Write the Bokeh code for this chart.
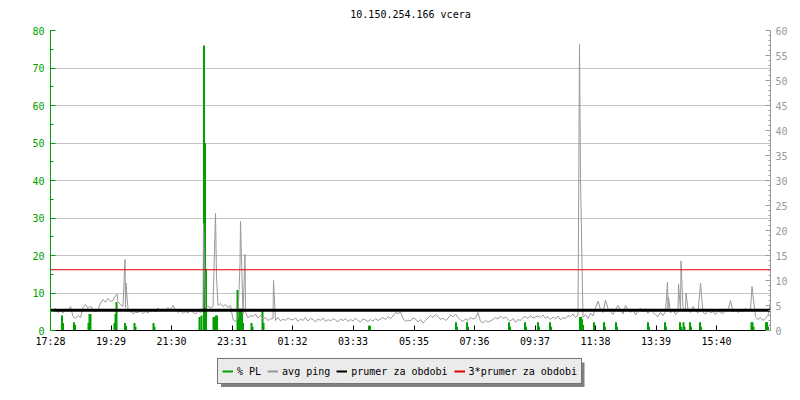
from bokeh.plotting import figure
from bokeh.layouts import column
from bokeh.models import (Range1d, LinearAxis, FixedTicker, Legend, LegendItem,
                          BoxAnnotation)
from bokeh.embed import file_html
from bokeh.resources import INLINE

FONT = "DejaVu Sans Mono"
GREEN = "#00a000"
GRAY = "#999999"
GRID = "#c4c4c4"

title_text = "10.150.254.166 vcera"
start_label = "17:28"
period_minutes = 1440
sample_step = 5

x_tick_labels = ["17:28", "19:29", "21:30", "23:31", "01:32", "03:33",
                 "05:35", "07:36", "09:37", "11:38", "13:39", "15:40"]
pl_ticks = [0, 10, 20, 30, 40, 50, 60, 70, 80]
ping_ticks = [0, 5, 10, 15, 20, 25, 30, 35, 40, 45, 50, 55, 60]

# avg ping (ms), one reading every 5 minutes from 17:28
ping_base = [
    4.2, 3.8, 4.4, 3.6, 4.0, 3.5, 4.3, 3.9, 4.8, 2.8, 2.4, 3.0,
    2.6, 4.6, 5.2, 4.4, 4.9, 4.2, 3.8, 4.1, 5.5, 6.2, 5.6, 6.4,
    5.8, 6.0, 7.0, 5.8, 5.2, 4.8, 4.6, 4.2, 3.8, 3.4, 3.6, 3.6,
    3.9, 3.4, 3.8, 3.5, 4.0, 4.2, 3.7, 4.5, 3.9, 4.3, 4.0, 4.6,
    4.1, 5.0, 4.2, 3.6, 3.9, 3.4, 3.8, 3.5, 4.0, 3.7, 3.3, 3.9,
    3.6, 4.0, 4.6, 4.9, 4.5, 4.8, 4.4, 5.0, 5.4, 4.8, 5.2, 4.6,
    5.0, 2.2, 1.8, 2.4, 2.0, 3.2, 3.6, 2.6, 3.0, 2.8, 3.3, 2.5,
    3.0, 2.2, 2.6, 2.0, 2.3, 2.4, 2.0, 2.6, 1.9, 2.3, 2.0, 2.5,
    2.2, 2.1, 2.5, 1.8, 2.3, 2.0, 2.6, 1.9, 2.4, 2.2, 1.7, 2.3,
    2.0, 2.5, 1.8, 2.2, 1.9, 2.4, 2.1, 1.7, 2.3, 2.0, 2.4, 1.8,
    2.2, 1.9, 2.5, 2.0, 1.7, 2.3, 2.1, 1.8, 2.2, 1.9, 2.4, 2.0,
    2.3, 2.6, 2.2, 2.8, 2.4, 2.9, 3.6, 3.4, 3.7, 2.4, 1.8, 2.1,
    1.9, 2.5, 2.3, 1.7, 2.2, 1.5, 2.0, 2.5, 3.0, 2.6, 3.2, 2.8,
    2.2, 2.5, 2.0, 2.4, 3.2, 2.7, 3.3, 2.6, 2.1, 1.8, 2.4, 2.0,
    2.6, 2.3, 2.5, 3.6, 1.8, 1.5, 2.0, 1.7, 1.9, 2.2, 2.6, 2.3,
    2.9, 2.4, 2.7, 2.2, 1.9, 2.4, 1.6, 2.2, 2.0, 2.6, 2.8, 2.4,
    3.0, 2.5, 2.7, 2.9, 2.6, 3.1, 2.4, 2.8, 2.2, 2.7, 2.3, 2.9,
    2.1, 2.6, 2.4, 3.0, 2.8, 3.3, 2.6, 3.1, 3.0, 2.6, 3.2, 2.4,
    3.5, 2.9, 4.5, 5.9, 4.2, 3.6, 6.1, 4.4, 3.8, 3.2, 4.2, 5.0,
    4.0, 3.3, 5.0, 4.2, 3.6, 4.3, 3.1, 3.9, 4.5, 3.7, 4.4, 3.4,
    4.1, 3.6, 3.2, 2.8, 3.6, 3.0, 3.8, 4.4, 3.5, 4.2, 3.2, 3.8,
    4.0, 4.6, 3.9, 4.3, 3.6, 4.8, 4.0, 3.5, 4.2, 3.6, 3.3, 4.0,
    3.5, 3.8, 3.2, 3.9, 3.6, 3.4, 3.9, 4.1, 6.0, 3.7, 4.3, 3.6,
    4.0, 3.8, 4.4, 3.9, 4.2, 7.0, 2.8, 2.2, 2.6, 2.0, 2.4, 3.0,
]

# short ping spikes: minute offset from 17:28, value (ms)
ping_spike_t = [133, 149, 151, 306, 330, 332, 379, 380, 389, 446,
                1058, 1060, 1234, 1236, 1256, 1261, 1271, 1300, 1360,
                1403, 1405, 1440]
ping_spike_v = [7.3, 14.2, 9.5, 21.4, 23.4, 10.8, 13.4, 21.8, 15.2, 10.0,
                57.2, 30.4, 9.7, 6.7, 9.3, 13.9, 7.5, 9.5, 6.0,
                8.8, 7.0, 5.7]

# packet loss (%): minute offset from 17:28, value
pl_t = [23, 25, 47, 49, 76, 78, 80, 128, 130, 132, 149, 151, 168, 170, 206, 208,
        298, 302, 307, 309, 311, 326, 328, 331, 333, 374, 377, 380, 383, 385,
        402, 404, 424, 426, 637, 639, 811, 813, 833, 835, 917, 919, 949, 951,
        975, 977, 999, 1001, 1059, 1061, 1063, 1065, 1087, 1089, 1107, 1109,
        1131, 1133, 1195, 1197, 1229, 1231, 1259, 1261, 1266, 1268, 1279, 1281,
        1299, 1301, 1402, 1404, 1406, 1431, 1433, 1435]
pl_v = [4.0, 2.0, 2.2, 1.5, 2.0, 4.4, 4.4, 2.0, 4.4, 7.6, 2.0, 1.2, 2.0, 1.0, 2.0, 1.0,
        3.6, 4.0, 76.0, 50.0, 16.5, 3.6, 3.6, 4.0, 4.0, 10.8, 5.8, 5.8, 5.8, 2.0,
        2.0, 1.0, 5.2, 2.0, 1.3, 1.3, 2.2, 1.0, 2.2, 1.0, 2.2, 1.0, 2.2, 1.0,
        2.2, 1.0, 2.2, 1.0, 3.6, 3.6, 3.0, 1.5, 2.2, 1.0, 2.2, 1.0,
        2.2, 1.0, 2.2, 1.0, 2.2, 1.0, 2.2, 1.0, 2.2, 1.0, 2.2, 1.0,
        2.2, 1.0, 2.2, 2.2, 1.0, 2.2, 2.2, 1.0]

avg_ping = 4.05            # prumer za obdobi (ms)
avg_ping3 = 3 * avg_ping   # 3*prumer za obdobi

legend_labels = ["% PL", "avg ping", "prumer za obdobi", "3*prumer za obdobi"]


def minutes_from_start(label):
    h, m = (int(s) for s in label.split(":"))
    h0, m0 = (int(s) for s in start_label.split(":"))
    return ((h * 60 + m) - (h0 * 60 + m0)) % period_minutes


x_ticks = [minutes_from_start(lab) for lab in x_tick_labels]

samples = {i * sample_step: v for i, v in enumerate(ping_base)}
for t, v in zip(ping_spike_t, ping_spike_v):
    samples[t] = v
ping_t = sorted(samples)
ping_v = [samples[t] for t in ping_t]

p = figure(width=800, height=352, x_range=Range1d(0, period_minutes),
           y_range=Range1d(pl_ticks[0], pl_ticks[-1]),
           output_backend="svg", toolbar_location=None,
           min_border_left=50, min_border_right=30, min_border_top=30,
           min_border_bottom=22, title=title_text)
p.extra_y_ranges = {"ping": Range1d(ping_ticks[0], ping_ticks[-1])}
p.outline_line_color = None
p.background_fill_color = "white"
p.border_fill_color = "white"

p.title.align = "center"
p.title.vertical_align = "top"
p.title.text_font = FONT
p.title.text_font_size = "10px"
p.title.text_font_style = "normal"
p.title.text_color = "black"
p.title.standoff = 17

# bottom axis
xa = p.xaxis[0]
xa.ticker = FixedTicker(ticks=x_ticks)
xa.major_label_overrides = {t: lab for t, lab in zip(x_ticks, x_tick_labels)}
xa.major_tick_in = 5
xa.major_tick_out = 0
xa.minor_tick_line_color = None
xa.axis_line_color = "black"
xa.major_tick_line_color = "black"
xa.major_label_text_font = FONT
xa.major_label_text_font_size = "10px"
xa.major_label_text_color = "black"
xa.major_label_standoff = 5
p.xgrid.visible = False

# left axis (% PL)
ya = p.yaxis[0]
ya.ticker = FixedTicker(ticks=pl_ticks, minor_ticks=[t + 5 for t in pl_ticks[:-1]])
ya.axis_line_color = GREEN
ya.major_tick_line_color = GREEN
ya.minor_tick_line_color = GREEN
ya.major_tick_in = 5
ya.major_tick_out = 0
ya.minor_tick_in = 3
ya.minor_tick_out = 0
ya.major_label_text_color = GREEN
ya.major_label_text_font = FONT
ya.major_label_text_font_size = "10px"
ya.major_label_standoff = 6
p.ygrid.ticker = FixedTicker(ticks=pl_ticks)
p.ygrid.grid_line_color = GRID

# right axis (ping ms)
ra = LinearAxis(y_range_name="ping",
                ticker=FixedTicker(ticks=ping_ticks,
                                   minor_ticks=list(range(ping_ticks[0], ping_ticks[-1] + 1))))
ra.axis_line_color = GRAY
ra.major_tick_line_color = GRAY
ra.minor_tick_line_color = GRAY
ra.major_tick_in = 5
ra.major_tick_out = 0
ra.minor_tick_in = 2
ra.minor_tick_out = 0
ra.major_label_text_color = GRAY
ra.major_label_text_font = FONT
ra.major_label_text_font_size = "10px"
ra.major_label_standoff = 5
p.add_layout(ra, "right")

p.segment(x0=pl_t, y0=0, x1=pl_t, y1=pl_v, line_color=GREEN, line_width=2)
p.line(x=ping_t, y=ping_v, y_range_name="ping", line_color=GRAY, line_width=1)
x_ends = [0, period_minutes]
p.line(x=x_ends, y=[avg_ping, avg_ping], y_range_name="ping",
       line_color="black", line_width=3)
p.line(x=x_ends, y=[avg_ping3, avg_ping3], y_range_name="ping",
       line_color="#e00000", line_width=1.2)

# legend strip below the chart; its frame is aligned with the chart frame
# (x 50..770 px), so the ranges are set to page pixels
LH = 48
lf = figure(width=800, height=LH, x_range=Range1d(50, 770), y_range=Range1d(0, LH),
            output_backend="svg", toolbar_location=None,
            min_border_left=50, min_border_right=30, min_border_top=0,
            min_border_bottom=0, x_axis_location=None, y_axis_location=None)
lf.grid.visible = False
lf.outline_line_color = None
lf.background_fill_color = "white"
lf.border_fill_color = "white"

lf.add_layout(BoxAnnotation(left=220.5, right=584, bottom=13.5, top=38,
                            fill_color="#808080", fill_alpha=1.0,
                            line_color=None, level="underlay"))

nan = float("nan")
r_pl = lf.segment(x0=[nan], y0=[nan], x1=[nan], y1=[nan], line_color=GREEN, line_width=2)
r_ping = lf.line(x=[nan], y=[nan], line_color=GRAY, line_width=2)
r_avg = lf.line(x=[nan], y=[nan], line_color="black", line_width=2)
r_avg3 = lf.line(x=[nan], y=[nan], line_color="#e00000", line_width=2)

legend = Legend(items=[LegendItem(label=lab, renderers=[r])
                       for lab, r in zip(legend_labels, [r_pl, r_ping, r_avg, r_avg3])],
                orientation="horizontal", location=(167, 16), margin=0,
                padding=4, spacing=6, glyph_width=11, glyph_height=16,
                label_height=16, label_standoff=4,
                label_text_font=FONT, label_text_font_size="10px",
                label_text_color="black",
                background_fill_color="#ebebeb", background_fill_alpha=1.0,
                border_line_color="black", border_line_width=1)
lf.add_layout(legend)

layout = column(p, lf, spacing=0)
open("out.html", "w").write(file_html(layout, INLINE))
